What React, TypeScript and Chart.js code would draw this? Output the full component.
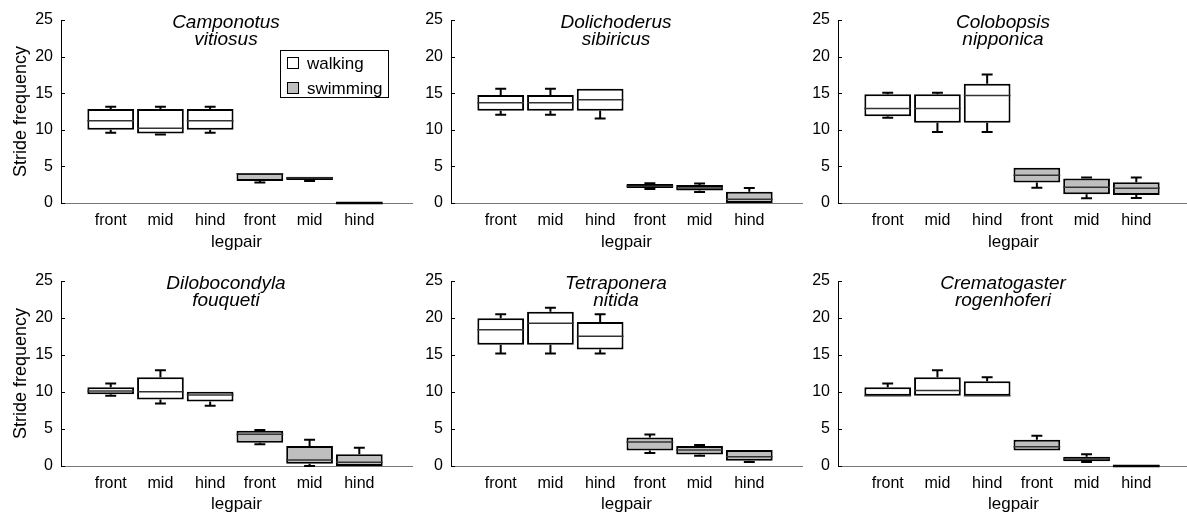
import React, { useEffect, useRef } from 'react';
import { Chart, registerables } from 'chart.js';

Chart.register(...registerables);

const FONT = 'Liberation Sans, Arial, Helvetica, sans-serif';
Chart.defaults.font.family = FONT;

const legpairLabels = ['front', 'mid', 'hind', 'front', 'mid', 'hind'];
const walkingPositions = [1, 2, 3];
const swimmingPositions = [4, 5, 6];
const yTickValues = [0, 5, 10, 15, 20, 25];
const seriesNames = ['walking', 'swimming'];

// each box: [lower whisker, Q1, median, Q3, upper whisker]
const camponotusWalking = [
  [9.6, 10.0, 11.25, 12.85, 13.15],
  [9.35, 9.5, 10.2, 12.85, 13.15],
  [9.6, 10.0, 11.25, 12.85, 13.15],
];
const camponotusSwimming = [
  [2.8, 3.0, 4.0, 4.1, 4.1],
  [3.0, 3.15, 3.4, 3.6, 3.6],
  [0, 0, 0, 0, 0],
];

const dolichoderusWalking = [
  [12.05, 12.6, 13.7, 14.75, 15.6],
  [12.05, 12.6, 13.7, 14.75, 15.6],
  [11.55, 12.6, 14.1, 15.6, 15.6],
];
const dolichoderusSwimming = [
  [1.9, 2.05, 2.3, 2.6, 2.7],
  [1.5, 1.7, 2.05, 2.45, 2.65],
  [0, 0, 0.5, 1.55, 2.05],
];

const colobopsisWalking = [
  [11.65, 11.85, 12.9, 14.85, 15.05],
  [9.7, 10.95, 12.9, 14.85, 15.05],
  [9.7, 10.95, 14.7, 16.3, 17.55],
];
const colobopsisSwimming = [
  [2.1, 2.8, 3.8, 4.8, 4.8],
  [0.65, 1.2, 2.15, 3.35, 3.5],
  [0.7, 1.1, 2.0, 2.85, 3.5],
];

const dilobocondylaWalking = [
  [9.5, 9.7, 10.15, 10.65, 11.15],
  [8.45, 9.0, 10.05, 12.0, 12.95],
  [8.15, 8.7, 9.6, 10.05, 10.05],
];
const dilobocondylaSwimming = [
  [2.95, 3.15, 4.3, 4.75, 4.85],
  [0, 0.3, 0.8, 2.7, 3.55],
  [0, 0, 0.5, 1.6, 2.45],
];

const tetraponeraWalking = [
  [15.2, 16.4, 18.4, 19.95, 20.5],
  [15.2, 16.4, 19.3, 20.85, 21.4],
  [15.2, 15.75, 17.55, 19.45, 20.5],
];
const tetraponeraSwimming = [
  [1.75, 2.1, 3.25, 3.85, 4.25],
  [1.4, 1.55, 2.15, 2.7, 2.85],
  [0.55, 0.7, 1.25, 2.15, 2.15],
];

const crematogasterWalking = [
  [9.5, 9.5, 9.5, 10.65, 11.15],
  [9.5, 9.5, 10.2, 12.0, 12.95],
  [9.5, 9.5, 9.5, 11.45, 12.0],
];
const crematogasterSwimming = [
  [2.1, 2.1, 2.6, 3.55, 4.1],
  [0.55, 0.65, 0.95, 1.25, 1.6],
  [0, 0, 0, 0, 0],
];

type Spec = { name: string[]; walking: number[][]; swimming: number[][] };

const species: Spec[] = [
  { name: ['Camponotus', 'vitiosus'], walking: camponotusWalking, swimming: camponotusSwimming },
  { name: ['Dolichoderus', 'sibiricus'], walking: dolichoderusWalking, swimming: dolichoderusSwimming },
  { name: ['Colobopsis', 'nipponica'], walking: colobopsisWalking, swimming: colobopsisSwimming },
  { name: ['Dilobocondyla', 'fouqueti'], walking: dilobocondylaWalking, swimming: dilobocondylaSwimming },
  { name: ['Tetraponera', 'nitida'], walking: tetraponeraWalking, swimming: tetraponeraSwimming },
  { name: ['Crematogaster', 'rogenhoferi'], walking: crematogasterWalking, swimming: crematogasterSwimming },
];

const WALK_FILL = '#ffffff';
const SWIM_FILL = '#bfbfbf';
const CAP_WIDTH = 0.22;
const BOX_WIDTH = 0.94;

type PanelProps = {
  spec: Spec;
  left: number;
  top: number;
  width: number;
  height: number;
  axisHeight: number;
  titlePad: number;
  showYTitle: boolean;
  showLegend: boolean;
};

function Panel({ spec, left, top, width, height, axisHeight, titlePad, showYTitle, showLegend }: PanelProps) {
  const ref = useRef<HTMLCanvasElement>(null);

  useEffect(() => {
    if (!ref.current) return;
    const groups = [
      { pos: walkingPositions, stats: spec.walking },
      { pos: swimmingPositions, stats: spec.swimming },
    ];

    const boxPlugin = {
      id: 'boxWhisker',
      beforeDatasetsDraw(chart: any) {
        const { ctx } = chart;
        const xs = chart.scales.x;
        const ys = chart.scales.y;
        ctx.save();
        ctx.strokeStyle = '#000';
        ctx.lineWidth = 2;
        groups.forEach((g) => {
          g.stats.forEach((s, i) => {
            const cx = xs.getPixelForValue(g.pos[i]);
            const half = xs.getPixelForValue(g.pos[i] + CAP_WIDTH / 2) - cx;
            const drawWhisker = (from: number, to: number) => {
              const y1 = ys.getPixelForValue(from);
              const y2 = ys.getPixelForValue(to);
              ctx.beginPath();
              ctx.moveTo(cx, y1);
              ctx.lineTo(cx, y2);
              ctx.moveTo(cx - half, y2);
              ctx.lineTo(cx + half, y2);
              ctx.stroke();
            };
            if (s[0] < s[1]) drawWhisker(s[1], s[0]);
            if (s[4] > s[3]) drawWhisker(s[3], s[4]);
          });
        });
        ctx.restore();
      },
      afterDatasetsDraw(chart: any) {
        const { ctx, chartArea } = chart;
        const xs = chart.scales.x;
        const ys = chart.scales.y;
        ctx.save();
        // medians
        groups.forEach((g) => {
          g.stats.forEach((s, i) => {
            const x1 = xs.getPixelForValue(g.pos[i] - BOX_WIDTH / 2);
            const x2 = xs.getPixelForValue(g.pos[i] + BOX_WIDTH / 2);
            const ym = ys.getPixelForValue(s[2]);
            ctx.beginPath();
            if (s[3] - s[1] < 0.05) {
              ctx.strokeStyle = '#000';
              ctx.lineWidth = 2.5;
            } else {
              ctx.strokeStyle = '#333';
              ctx.lineWidth = 1.5;
            }
            ctx.moveTo(x1, ym);
            ctx.lineTo(x2, ym);
            ctx.stroke();
          });
        });
        // inward y ticks
        ctx.strokeStyle = '#000';
        ctx.lineWidth = 1;
        yTickValues.forEach((v) => {
          const y = Math.round(ys.getPixelForValue(v)) + 0.5;
          ctx.beginPath();
          ctx.moveTo(chartArea.left, y);
          ctx.lineTo(chartArea.left + 4, y);
          ctx.stroke();
        });
        // title
        ctx.fillStyle = '#000';
        ctx.font = `italic 19px ${FONT}`;
        ctx.textAlign = 'center';
        ctx.textBaseline = 'middle';
        const tx = chartArea.left + 165;
        ctx.fillText(spec.name[0], tx, chartArea.top + 2.5);
        ctx.fillText(spec.name[1], tx, chartArea.top + 20);
        // legend
        if (showLegend) {
          const lx = chartArea.left + 219;
          const ly = chartArea.top + 30;
          ctx.strokeStyle = '#000';
          ctx.lineWidth = 1;
          ctx.fillStyle = '#fff';
          ctx.fillRect(lx, ly, 108, 47);
          ctx.strokeRect(lx + 0.5, ly + 0.5, 108, 47);
          const fills = [WALK_FILL, SWIM_FILL];
          seriesNames.forEach((n, k) => {
            const ry = ly + 13 + k * 25;
            ctx.fillStyle = fills[k];
            ctx.fillRect(lx + 7, ry - 6, 12, 12);
            ctx.strokeRect(lx + 7.5, ry - 5.5, 11, 11);
            ctx.fillStyle = '#000';
            ctx.font = `17px ${FONT}`;
            ctx.textAlign = 'left';
            ctx.textBaseline = 'middle';
            ctx.fillText(n, lx + 27, ry + 1);
          });
        }
        ctx.restore();
      },
    };

    const chart = new Chart(ref.current, {
      type: 'bar',
      data: {
        datasets: [
          {
            label: seriesNames[0],
            data: spec.walking.map((s, i) => ({ x: walkingPositions[i], y: [s[1], s[3]] })) as any,
            backgroundColor: WALK_FILL,
            borderColor: '#000',
            borderWidth: 2,
            borderSkipped: false,
          },
          {
            label: seriesNames[1],
            data: spec.swimming.map((s, i) => ({ x: swimmingPositions[i], y: [s[1], s[3]] })) as any,
            backgroundColor: SWIM_FILL,
            borderColor: '#000',
            borderWidth: 2,
            borderSkipped: false,
          },
        ],
      },
      options: {
        animation: false,
        responsive: false,
        maintainAspectRatio: false,
        layout: { padding: { top: 20, right: 3, left: 0, bottom: 0 } },
        datasets: { bar: { grouped: false, categoryPercentage: 1, barPercentage: BOX_WIDTH } } as any,
        plugins: {
          legend: { display: false },
          tooltip: { enabled: false },
          title: { display: false },
        },
        scales: {
          x: {
            type: 'linear',
            min: 0,
            max: 7.06,
            offset: false,
            grid: { display: false, drawTicks: false, offset: false },
            border: { display: true, color: '#777', width: 1 },
            afterBuildTicks: (s: any) => {
              s.ticks = legpairLabels.map((_, i) => ({ value: i + 1 }));
            },
            afterFit: (s: any) => {
              s.height = axisHeight;
            },
            ticks: {
              autoSkip: false,
              maxRotation: 0,
              padding: 8,
              color: '#000',
              font: { size: 16 },
              callback: (v: any) => legpairLabels[Math.round(Number(v)) - 1] ?? '',
            },
            title: {
              display: true,
              text: 'legpair',
              color: '#000',
              font: { size: 17 },
              padding: { top: 0, bottom: titlePad },
            },
          } as any,
          y: {
            type: 'linear',
            min: 0,
            max: 25,
            grid: { display: false, drawTicks: false },
            border: { display: true, color: '#000', width: 1 },
            afterBuildTicks: (s: any) => {
              s.ticks = yTickValues.map((v) => ({ value: v }));
            },
            afterFit: (s: any) => {
              s.width = 61;
            },
            ticks: { padding: 8, color: '#000', font: { size: 16 } },
            title: {
              display: showYTitle,
              text: 'Stride frequency',
              color: '#000',
              font: { size: 18 },
              padding: { top: 10, bottom: 0 },
            },
          } as any,
        },
      },
      plugins: [boxPlugin],
    });
    return () => chart.destroy();
  }, []);

  return (
    <canvas
      ref={ref}
      width={width}
      height={height}
      style={{ position: 'absolute', left, top, width, height }}
    />
  );
}

const colLefts = [0, 390, 777];
const rowTops = [0, 261];
const rowHeights = [256, 254];
const rowAxisHeights = [53, 49];
const rowTitlePads = [3, 0];

export default function App() {
  return (
    <div
      style={{
        position: 'fixed',
        left: 0,
        top: 0,
        width: 1187,
        height: 515,
        overflow: 'hidden',
        background: '#fff',
      }}
    >
      {species.map((sp, idx) => {
        const row = Math.floor(idx / 3);
        const col = idx % 3;
        return (
          <Panel
            key={idx}
            spec={sp}
            left={colLefts[col]}
            top={rowTops[row]}
            width={415}
            height={rowHeights[row]}
            axisHeight={rowAxisHeights[row]}
            titlePad={rowTitlePads[row]}
            showYTitle={col === 0}
            showLegend={idx === 0}
          />
        );
      })}
    </div>
  );
}
